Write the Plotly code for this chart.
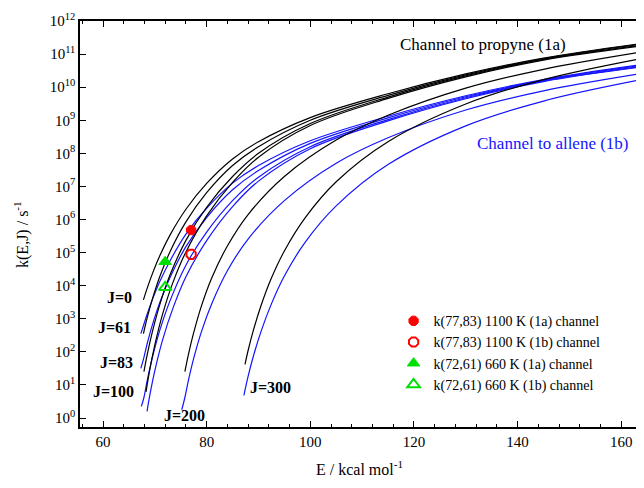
import numpy as np
import plotly.graph_objects as go

# ---------------- data (log10 k) ----------------
# channel (1a), propyne - black
E_1a_J0 = [67.8, 68.5, 69.5, 71, 73, 76, 80, 85, 90, 100, 115, 130, 145, 163]
lg_1a_J0 = [3.57, 3.91, 4.35, 4.92, 5.55, 6.31, 7.09, 7.83, 8.35, 9.08, 9.80, 10.40, 10.88, 11.30]
E_1a_J61 = [67.8, 68.5, 69.5, 71, 73, 76, 80, 85, 90, 100, 115, 130, 145, 163]
lg_1a_J61 = [2.55, 3.01, 3.58, 4.29, 5.05, 5.93, 6.81, 7.63, 8.20, 9.00, 9.75, 10.37, 10.86, 11.28]
E_1a_J83 = [67.9, 68.5, 69.5, 71, 73, 76, 80, 85, 90, 100, 115, 130, 145, 163]
lg_1a_J83 = [1.40, 1.89, 2.59, 3.45, 4.35, 5.37, 6.37, 7.30, 8.00, 8.90, 9.70, 10.34, 10.84, 11.25]
E_1a_J100 = [68.3, 69, 70, 71.5, 73.5, 76, 80, 85, 90, 100, 115, 130, 145, 163]
lg_1a_J100 = [0.79, 1.44, 2.21, 3.14, 4.10, 5.02, 6.11, 7.12, 7.88, 8.84, 9.66, 10.31, 10.82, 11.23]
E_1a_J200 = [75.8, 76.5, 77.5, 79, 81, 84, 88, 95, 105, 115, 130, 145, 163]
lg_1a_J200 = [1.40, 1.93, 2.58, 3.39, 4.24, 5.20, 6.15, 7.30, 8.40, 9.15, 9.97, 10.54, 11.04]
E_1a_J300 = [87.4, 88, 89, 90.5, 92.5, 95, 99, 105, 115, 130, 145, 163]
lg_1a_J300 = [1.62, 2.04, 2.64, 3.40, 4.23, 5.05, 6.05, 7.14, 8.35, 9.49, 10.23, 10.84]

# channel (1b), allene - blue
E_1b_J0 = [67.3, 67.8, 68.5, 69.5, 71, 73, 76, 80, 85, 90, 100, 115, 130, 145, 163]
lg_1b_J0 = [2.55, 2.79, 3.13, 3.57, 4.14, 4.77, 5.56, 6.34, 7.10, 7.63, 8.38, 9.12, 9.74, 10.23, 10.66]
E_1b_J61 = [67.3, 67.8, 68.5, 69.5, 71, 73, 76, 80, 85, 90, 100, 115, 130, 145, 163]
lg_1b_J61 = [1.50, 1.77, 2.23, 2.80, 3.51, 4.27, 5.18, 6.06, 6.90, 7.48, 8.30, 9.07, 9.71, 10.21, 10.64]
E_1b_J83 = [67.4, 67.9, 68.5, 69.5, 71, 73, 76, 80, 85, 90, 100, 115, 130, 145, 163]
lg_1b_J83 = [0.35, 0.62, 1.11, 1.81, 2.67, 3.57, 4.62, 5.62, 6.57, 7.28, 8.20, 9.02, 9.68, 10.19, 10.61]
E_1b_J100 = [68.5, 69, 70, 71.5, 73.5, 76, 80, 85, 90, 100, 115, 130, 145, 163]
lg_1b_J100 = [0.20, 0.66, 1.43, 2.36, 3.32, 4.27, 5.36, 6.39, 7.16, 8.14, 8.98, 9.65, 10.17, 10.59]
E_1b_J200 = [75.2, 75.8, 76.5, 77.5, 79, 81, 84, 88, 95, 105, 115, 130, 145, 163]
lg_1b_J200 = [0.25, 0.62, 1.15, 1.80, 2.61, 3.46, 4.45, 5.41, 6.57, 7.70, 8.47, 9.31, 9.89, 10.39]
E_1b_J300 = [87.2, 87.4, 88, 89, 90.5, 92.5, 95, 99, 105, 115, 130, 145, 163]
lg_1b_J300 = [0.68, 0.84, 1.26, 1.86, 2.62, 3.45, 4.29, 5.31, 6.41, 7.66, 8.83, 9.58, 10.20]

point_labels = ["k(77,83) 1100 K (1a) channel", "k(77,83) 1100 K (1b) channel",
                "k(72,61) 660 K (1a) channel", "k(72,61) 660 K (1b) channel"]
point_E = [77, 77, 72, 72]
point_k = [4.8e5, 8.9e4, 5.3e4, 8.9e3]

J_labels = ["J=0", "J=61", "J=83", "J=100", "J=200", "J=300"]

y_tickvals = [10.0 ** p for p in range(0, 13)]
y_ticktext = ["10<sup>%d</sup>" % p for p in range(0, 13)]
x_tickvals = [60, 80, 100, 120, 140, 160]

# ---------------- figure ----------------
SERIF = "Liberation Serif"
BLACK = "#000000"
BLUE = "#1414ff"

fig = go.Figure()

curves_1a = [(E_1a_J0, lg_1a_J0), (E_1a_J61, lg_1a_J61), (E_1a_J83, lg_1a_J83),
             (E_1a_J100, lg_1a_J100), (E_1a_J200, lg_1a_J200), (E_1a_J300, lg_1a_J300)]
curves_1b = [(E_1b_J0, lg_1b_J0), (E_1b_J61, lg_1b_J61), (E_1b_J83, lg_1b_J83),
             (E_1b_J100, lg_1b_J100), (E_1b_J200, lg_1b_J200), (E_1b_J300, lg_1b_J300)]

for (E, lg) in curves_1b:
    fig.add_trace(go.Scatter(x=E, y=10 ** np.array(lg), mode="lines",
                             line=dict(color=BLUE, width=1.2, shape="spline", smoothing=1.0),
                             showlegend=False, hoverinfo="skip"))
for (E, lg) in curves_1a:
    fig.add_trace(go.Scatter(x=E, y=10 ** np.array(lg), mode="lines",
                             line=dict(color=BLACK, width=1.2, shape="spline", smoothing=1.0),
                             showlegend=False, hoverinfo="skip"))

styles = [dict(symbol="octagon", color="#ff0000", size=10, line=dict(color="#ff0000", width=1)),
          dict(symbol="octagon-open", color="#ff0000", size=10, line=dict(color="#ff0000", width=2)),
          dict(symbol="triangle-up", color="#00e000", size=11, line=dict(color="#00e000", width=1)),
          dict(symbol="triangle-up-open", color="#00e000", size=11, line=dict(color="#00e000", width=2))]
for i in range(4):
    fig.add_trace(go.Scatter(x=[point_E[i]], y=[point_k[i]], mode="markers",
                             marker=styles[i], name=point_labels[i]))

# J labels (positions in data coordinates)
J_pos = [(66.0, 3.63, "right"), (65.8, 2.75, "right"), (66.2, 1.69, "right"),
         (66.4, 0.79, "right"), (75.8, 0.09, "center"), (92.3, 0.91, "center")]
for lab, (x, y, anc) in zip(J_labels, J_pos):
    fig.add_annotation(x=x, y=y, text="<b>%s</b>" % lab, showarrow=False,
                       xanchor=anc, yanchor="middle",
                       font=dict(family=SERIF, size=16, color="black"))

fig.add_annotation(x=117.0, y=11.28, text="Channel to propyne (1a)", showarrow=False,
                   xanchor="left", yanchor="middle",
                   font=dict(family=SERIF, size=17, color="black"))
fig.add_annotation(x=131.8, y=8.31, text="Channel to allene (1b)", showarrow=False,
                   xanchor="left", yanchor="middle",
                   font=dict(family=SERIF, size=17, color=BLUE))

# axis titles
fig.add_annotation(xref="paper", yref="paper", x=0.496, y=0, yshift=-41,
                   text="E / kcal mol<sup>-1</sup>", showarrow=False,
                   xanchor="center", yanchor="middle",
                   font=dict(family=SERIF, size=16, color="black"))
fig.add_annotation(xref="paper", yref="paper", x=0, xshift=-58, y=0.473,
                   text="k(E,J) / s<sup>-1</sup>", showarrow=False, textangle=-90,
                   xanchor="center", yanchor="middle",
                   font=dict(family=SERIF, size=16, color="black"))

# the page body has an 8 px margin, so the plot box is placed 8 px up/left
fig.update_layout(
    width=644, height=488,
    margin=dict(l=72, r=8, t=13, b=69),
    paper_bgcolor="white", plot_bgcolor="white",
    font=dict(family=SERIF, size=15, color="black"),
    legend=dict(x=0.556, y=0.300, xanchor="left", yanchor="top",
                bgcolor="rgba(0,0,0,0)", font=dict(family=SERIF, size=14),
                tracegroupgap=0, itemwidth=30),
    xaxis=dict(range=[55.56, 164.4], showgrid=False, zeroline=False, automargin=False,
               showline=True, linecolor="black", linewidth=1.5, mirror="ticks",
               ticks="inside", ticklen=6, tickwidth=1.2, tickcolor="black",
               tickvals=x_tickvals,
               minor=dict(ticks="inside", ticklen=3, tick0=60, dtick=4,
                          tickcolor="black", tickwidth=1),
               tickfont=dict(family=SERIF, size=15)),
    yaxis=dict(type="log", range=[-0.272, 12.0], showgrid=False, zeroline=False,
               automargin=False,
               showline=True, linecolor="black", linewidth=1.5, mirror="ticks",
               ticks="inside", ticklen=6, tickwidth=1.2, tickcolor="black",
               tickvals=y_tickvals, ticktext=y_ticktext,
               tickfont=dict(family=SERIF, size=15)),
)

fig.write_html("out.html")
